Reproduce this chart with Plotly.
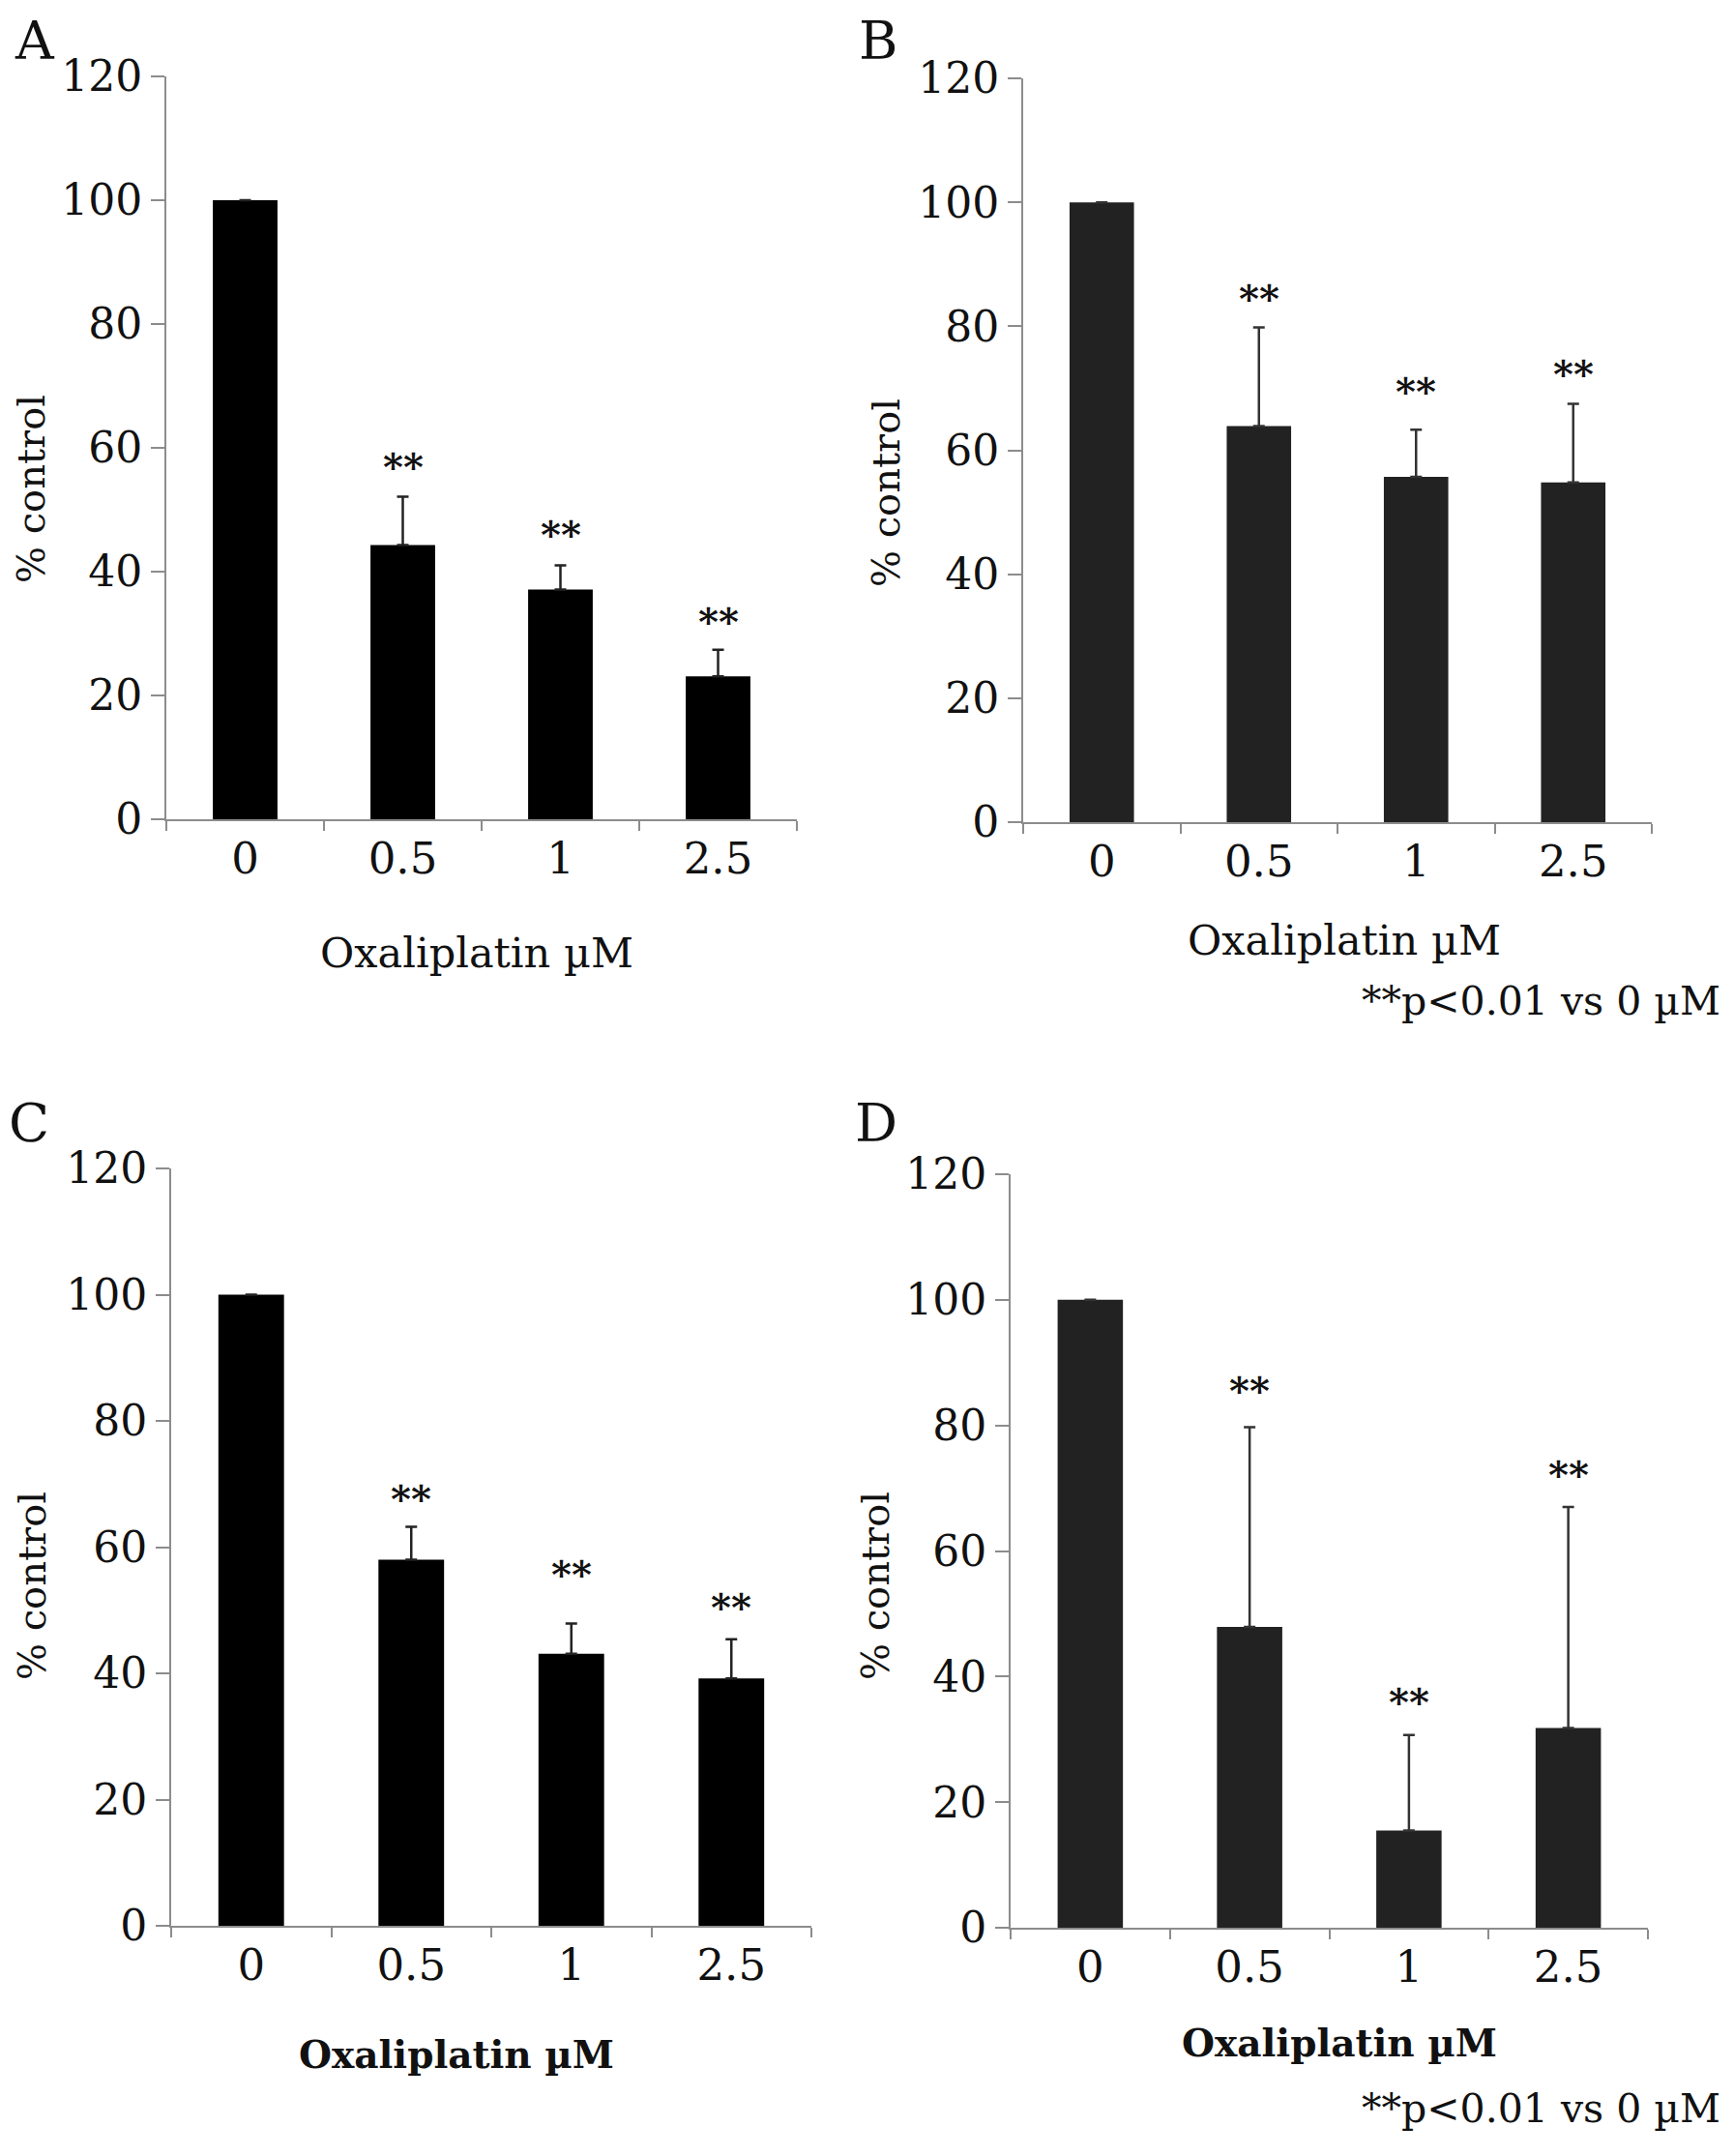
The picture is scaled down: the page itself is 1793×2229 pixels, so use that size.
import plotly.graph_objects as go

categories = ["0", "0.5", "1", "2.5"]

# panel values
means_A = [100, 44.3, 37.1, 23.1]
err_A = [None, 7.8, 3.9, 4.3]
star_A = [None, 57.0, 46.0, 31.9]

means_B = [100, 63.9, 55.7, 54.8]
err_B = [0, 15.9, 7.6, 12.7]
star_B = [None, 84.5, 69.5, 72.4]

means_C = [100, 58.0, 43.1, 39.2]
err_C = [None, 5.2, 4.8, 6.2]
star_C = [None, 67.6, 55.7, 50.5]

means_D = [100, 47.9, 15.5, 31.8]
err_D = [0, 31.8, 15.2, 35.2]
star_D = [None, 85.6, 36.0, 72.1]

y_ticks = [0, 20, 40, 60, 80, 100, 120]
x_title = "Oxaliplatin µM"
y_title = "% control"
footnote = "**p<0.01 vs 0 µM"
letters = ["A", "B", "C", "D"]

W, H = 1793, 2229
FONT = "DejaVu Serif"
OFF = 8  # page body margin

def px(x):
    return (x - OFF) / W

def py(y):
    return 1 - (y - OFF) / H

# plot areas in pixels: x0, x1, ytop, ybottom
areas = {
    "A": (172, 824, 79, 847),
    "B": (1058, 1708, 81, 850),
    "C": (177, 839, 1208, 1991),
    "D": (1045, 1704, 1214, 1993),
}
panels = [
    ("A", means_A, err_A, star_A, "#000000", "#222222"),
    ("B", means_B, err_B, star_B, "#222222", "#333333"),
    ("C", means_C, err_C, star_C, "#000000", "#222222"),
    ("D", means_D, err_D, star_D, "#222222", "#333333"),
]

fig = go.Figure()
annotations = []
layout = {}
for i, (name, means, errs, stars, col, ecol) in enumerate(panels):
    n = "" if i == 0 else str(i + 1)
    xa, ya = "x" + n, "y" + n
    x0, x1, yt, yb = areas[name]
    fig.add_trace(go.Bar(
        x=categories, y=means, xaxis=xa, yaxis=ya,
        marker=dict(color=col, line=dict(width=0)),
        width=0.41,
        error_y=dict(type="data", array=errs, arrayminus=[0] * 4,
                     symmetric=False, color=ecol, thickness=2.5, width=6),
        showlegend=False,
    ))
    layout["xaxis" + n] = dict(
        domain=[px(x0), px(x1)], anchor=ya, type="category",
        range=[-0.5, 3.5], tickson="boundaries", ticks="outside",
        ticklen=10, tickwidth=2, tickcolor="#8c8c8c",
        showline=True, linecolor="#8c8c8c", linewidth=2,
        showgrid=False, zeroline=False, automargin=False,
        tickfont=dict(family=FONT, size=45, color="#111"),
        ticklabelstandoff=0,
    )
    layout["yaxis" + n] = dict(
        domain=[py(yb), py(yt)], anchor=xa, range=[0, 120],
        tickvals=y_ticks, ticks="outside", ticklen=14, tickwidth=2,
        tickcolor="#8c8c8c", showline=True, linecolor="#8c8c8c",
        linewidth=2, showgrid=False, zeroline=False, automargin=False,
        tickfont=dict(family=FONT, size=44, color="#111"),
        ticklabelstandoff=0,
    )
    for k, s in enumerate(stars):
        if s is not None:
            annotations.append(dict(
                x=k, y=s, xref=xa, yref=ya, text="<b>**</b>", showarrow=False,
                font=dict(family=FONT, size=40, color="#111"),
                xanchor="center", yanchor="middle",
            ))

bold = {"A": False, "B": False, "C": True, "D": True}
xt_pos = {"A": (493, 985), "B": (1390, 972), "C": (472, 2124), "D": (1385, 2112)}
yt_pos = {"A": (32, 506), "B": (916, 509), "C": (33, 1640), "D": (905, 1640)}
let_pos = {"A": (36, 8), "B": (908, 8), "C": (30, 1161), "D": (906, 1161)}

for name in letters:
    xx, yy = xt_pos[name]
    txt = "<b>" + x_title + "</b>" if bold[name] else x_title
    annotations.append(dict(x=px(xx), y=py(yy), xref="paper", yref="paper",
                            text=txt, showarrow=False,
                            font=dict(family=FONT, size=43 if not bold[name] else 39,
                                      color="#111"),
                            xanchor="center", yanchor="middle"))
    xx, yy = yt_pos[name]
    annotations.append(dict(x=px(xx), y=py(yy), xref="paper", yref="paper",
                            text=y_title, showarrow=False, textangle=-90,
                            font=dict(family=FONT, size=40, color="#111"),
                            xanchor="center", yanchor="middle"))
    xx, yy = let_pos[name]
    top = name in ("A", "B")
    annotations.append(dict(x=px(xx), y=py(yy), xref="paper", yref="paper",
                            text=name, showarrow=False,
                            font=dict(family=FONT, size=55, color="#111"),
                            xanchor="center", yanchor="top" if top else "middle"))

for yy in (1035, 2180):
    annotations.append(dict(x=px(1781), y=py(yy), xref="paper", yref="paper",
                            text=footnote, showarrow=False,
                            font=dict(family=FONT, size=41, color="#111"),
                            xanchor="right", yanchor="middle"))

fig.update_layout(
    width=W, height=H, margin=dict(l=0, r=0, t=0, b=0),
    paper_bgcolor="white", plot_bgcolor="white",
    annotations=annotations, bargap=0.59, **layout,
)
fig.write_html("out.html")
